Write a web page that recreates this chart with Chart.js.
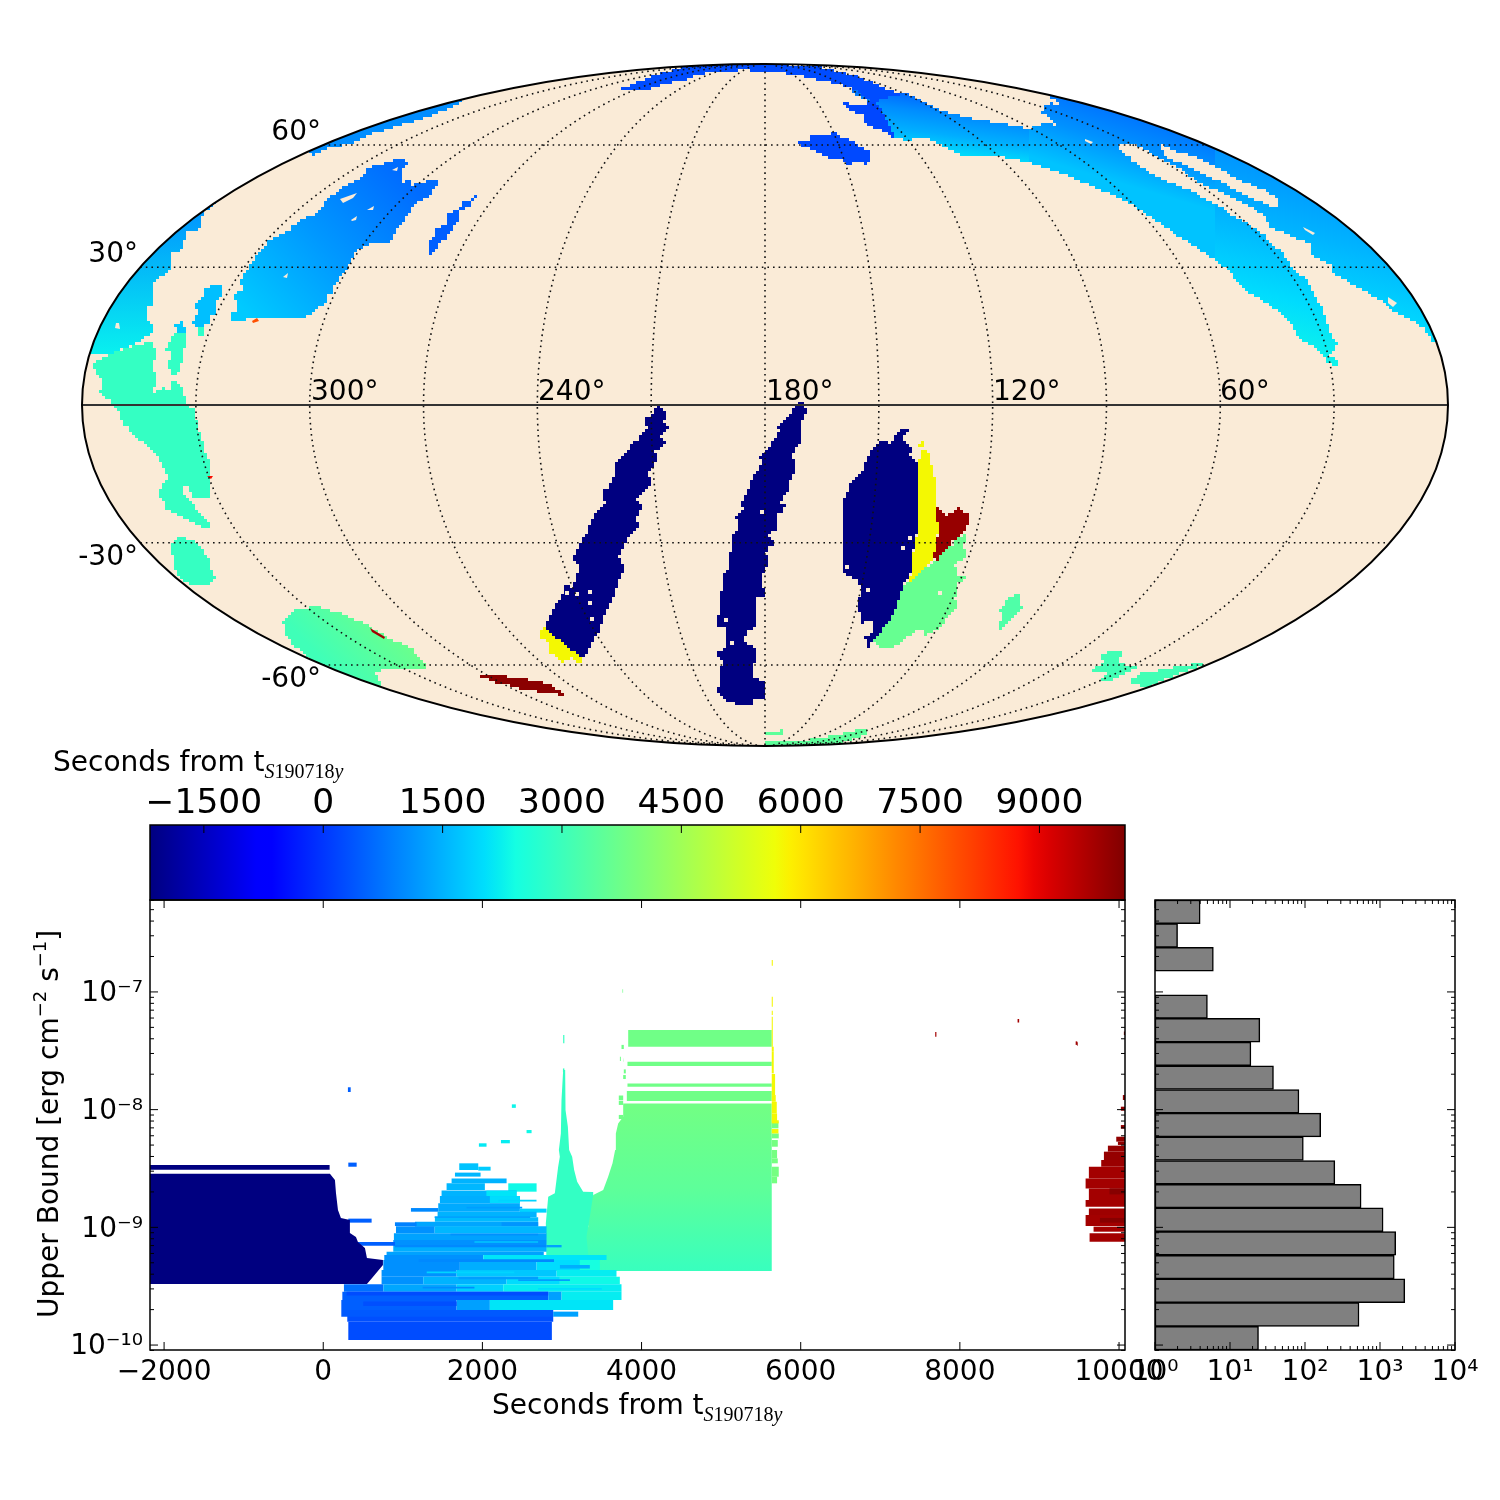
<!DOCTYPE html>
<html>
<head>
<meta charset="utf-8">
<title>S190718y upper bounds</title>
<script src="https://cdn.jsdelivr.net/npm/chart.js@4"></script>
<style>
    body { margin: 0; background: #fff; }
    #page { position: relative; width: 1500px; height: 1500px; overflow: hidden; }
    canvas { position: absolute; left: 0; top: 0; }
    .label { position: absolute; font: 28px "DejaVu Sans"; line-height: 34px; white-space: nowrap; color: #000; }
    .label sub { font: 20px "Liberation Serif"; vertical-align: -7px; line-height: 0; }
    .label sup { font-size: 18px; vertical-align: 12px; line-height: 0; }
</style>
</head>
<body>
<div id="page">
    <canvas id="map" width="1500" height="1500"></canvas>
    <canvas id="colorbar" width="1500" height="1500"></canvas>
    <canvas id="main" width="1500" height="1500"></canvas>
    <canvas id="hist" width="1500" height="1500"></canvas>
    <div class="label" style="left:53px;top:745px">Seconds from t<sub><i>S</i>190718<i>y</i></sub></div>
    <div class="label" style="left:492px;top:1388px">Seconds from t<sub><i>S</i>190718<i>y</i></sub></div>
    <div class="label" style="left:32px;top:1318px;transform-origin:left top;transform:rotate(-90deg)">Upper Bound [erg cm<sup>−2</sup> s<sup>−1</sup>]</div>
</div>
<script>
// ---- axis values ----
const timeMin = -2177
const timeMax = 10075
const fluxMinExp = -10.042
const fluxMaxExp = -6.219
const colorbarTicks = [-1500, 0, 1500, 3000, 4500, 6000, 7500, 9000]
const mainTimeTicks = [-2000, 0, 2000, 4000, 6000, 8000, 10000]
const fluxDecades = [-10, -9, -8, -7]
const histCountTicks = [1, 10, 100, 1000, 10000]

// ---- histogram, bins from the top down ----
const histBins = ["b1","b2","b3","b4","b5","b6","b7","b8","b9","b10","b11","b12","b13","b14","b15","b16","b17","b18","b19"]
const histCounts = [4, 2, 6, null, 5, 25, 19, 38, 83, 162, 95, 250, 560, 1100, 1620, 1550, 2140, 525, 24]

// ---- lower panel: [seconds, log10 flux] outlines ----
const navyBlock = [[-2177,-8.545],[84,-8.545],[147,-8.598],[160,-8.709],[185,-8.853],[222,-8.921],[335,-8.938],[335,-9.048],[411,-9.082],[436,-9.125],[524,-9.176],[549,-9.261],[750,-9.278],[750,-9.32],[624,-9.422],[549,-9.482],[-2177,-9.482]]
const tealPeak = [[3015,-7.664],[3040,-7.664],[3040,-7.777],[3049,-8.003],[3074,-8.145],[3090,-8.343],[3128,-8.4],[3153,-8.513],[3191,-8.612],[3266,-8.697],[3392,-8.7],[3392,-8.91],[3329,-8.995],[3350,-9.37],[2806,-9.37],[2797,-8.966],[2827,-8.74],[2910,-8.711],[2952,-8.485],[2973,-8.4],[2961,-8.343],[2986,-8.202],[2994,-7.918]]
const greenBody = [[3769,-7.947],[5636,-7.947],[5636,-9.371],[3350,-9.371],[3308,-9.08],[3350,-8.91],[3392,-8.725],[3518,-8.683],[3580,-8.57],[3635,-8.456],[3668,-8.343],[3677,-8.202],[3706,-8.117],[3769,-8.06]]

// ---- lower panel: [start, end, low, high, colour time] observation strips ----
const navyStrips = [[-2177,80,-8.51,-8.47,-2177]]
const greenStrips = [
    [3832,5636,-7.465,-7.324,3777],[3823,5636,-7.63,-7.593,3777],[3823,5636,-7.805,-7.777,3777],[3815,5636,-7.927,-7.842,3777],
    [3748,3777,-7.485,-7.45,3777],[3760,3768,-7.007,-6.978,3777],[3728,3740,-7.587,-7.55,3777],[3769,3777,-7.59,-7.56,3777],
    [3777,3802,-7.692,-7.658,3777],[3769,3802,-7.74,-7.706,3777],[3714,3769,-7.918,-7.88,3777],[3714,3769,-7.96,-7.924,3777],[3714,3769,-8.08,-8.045,3777],
    [5636,5720,-8.159,-8.102,3850],[5636,5724,-8.244,-8.202,3850],[5636,5712,-8.315,-8.258,3850],[5636,5703,-8.414,-8.343,3850],[5636,5712,-8.456,-8.414,3850],[5636,5724,-8.57,-8.485,3850],[5636,5703,-8.626,-8.57,3850],
    [3015,3030,-7.437,-7.366,2900],[3012,3030,-7.68,-7.65,2900]
]
const yellowStrips = [
    [5636,5649,-6.777,-6.729,5750],[5636,5649,-7.125,-7.04,5750],[5636,5649,-7.196,-7.159,5750],[5636,5649,-7.465,-7.21,5750],[5636,5661,-7.508,-7.465,5750],
    [5636,5661,-7.692,-7.508,5750],[5636,5678,-7.876,-7.697,5750],[5636,5686,-7.933,-7.876,5750],[5636,5699,-8.032,-7.933,5750],[5636,5703,-8.102,-8.032,5750],
    [5636,5724,-8.117,-8.09,5750],[5636,5720,-8.202,-8.165,5750]
]
const massStrips = [
    [1709,1948,-8.513,-8.456,1700],[1948,2103,-8.518,-8.485,1800],[1655,1977,-8.569,-8.535,1550],[1613,2304,-8.626,-8.584,1500],
    [1550,2031,-8.683,-8.626,1550],[2325,2681,-8.697,-8.626,2350],[1487,2429,-8.734,-8.688,1500],[2050,2429,-8.734,-8.688,2100],
    [1466,2471,-8.796,-8.734,1450],[2094,2471,-8.796,-8.734,2000],[1445,2471,-8.867,-8.796,1400],[2471,2806,-8.875,-8.841,1900],
    [1437,2681,-8.915,-8.867,1500],[1403,2701,-8.952,-8.915,1600],[1152,2701,-8.994,-8.952,1350],[2241,2701,-8.989,-8.957,1150],
    [914,1400,-9.051,-8.99,1100],[1400,2806,-9.051,-8.99,1550],[888,2806,-9.108,-9.051,1300],[880,2806,-9.15,-9.108,1100],
    [880,2806,-9.207,-9.15,1450],[796,2771,-9.235,-9.207,1300],[767,2011,-9.277,-9.235,1100],[2011,3560,-9.277,-9.235,2100],
    [755,1717,-9.362,-9.277,1080],[1717,2681,-9.362,-9.277,1450],[2681,3225,-9.362,-9.277,2000],[3225,3476,-9.362,-9.277,2450],
    [733,1676,-9.419,-9.362,1100],[1676,2932,-9.419,-9.362,1750],[2932,3685,-9.419,-9.362,2200],
    [733,1257,-9.484,-9.419,1100],[1257,2304,-9.484,-9.419,1500],[2304,2974,-9.484,-9.419,2000],[2974,3727,-9.484,-9.419,2350],
    [260,755,-9.547,-9.484,700],[755,1676,-9.547,-9.484,1350],[1676,2262,-9.547,-9.484,1850],[2262,3748,-9.547,-9.484,2200],
    [240,2827,-9.617,-9.547,500],[2827,2995,-9.617,-9.547,1280],[2995,3748,-9.617,-9.547,2200],
    [227,1676,-9.702,-9.617,500],[1676,2094,-9.702,-9.617,1280],[2094,3643,-9.702,-9.617,2100]
]
const darkStreaks = [
    [294,2827,-9.58,-9.547,270],[503,1676,-9.668,-9.631,300],[1200,2900,-9.295,-9.27,1000],[1700,2700,-9.44,-9.419,1250],
    [900,2806,-9.17,-9.15,1000],[1600,2700,-9.07,-9.055,1100],[2806,2995,-9.17,-9.15,1300],[2974,3350,-9.35,-9.32,1450],
    [1400,2600,-8.92,-8.905,1300],[1800,2500,-8.84,-8.825,1250],[2200,2680,-8.78,-8.765,1900],[1900,2700,-9.13,-9.118,1750],
    [1300,2400,-9.39,-9.375,1900],[2450,3100,-9.455,-9.44,1250],[1250,1900,-9.52,-9.505,1050],[2700,3500,-9.53,-9.515,2000]
]
const bottomStrips = [[315,2873,-9.957,-9.801,270],[302,2890,-9.801,-9.716,300],[227,2890,-9.759,-9.702,420],[2890,3204,-9.759,-9.716,1300]]
const strayStrips = [
    [1102,1445,-8.867,-8.836,1000],[901,1173,-8.989,-8.957,900],[315,608,-8.96,-8.926,500],[386,901,-9.156,-9.125,500],[315,420,-8.485,-8.45,500],
    [1956,2052,-8.315,-8.286,2150],[2233,2345,-8.286,-8.258,2200],[2555,2618,-8.2,-8.173,2350],[310,345,-7.85,-7.81,500],[2370,2420,-7.985,-7.955,2300],
    [7690,7705,-7.38,-7.34,9700],[8725,8745,-7.26,-7.23,9700],[9455,9475,-7.45,-7.42,9700]
]
const redStrips = [
    [10048,10075,-7.918,-7.876,9900],[10023,10075,-8.009,-7.975,9900],[10023,10075,-8.162,-8.131,9900],[9965,10075,-8.272,-8.23,9900],[9986,10075,-8.3,-8.272,9900],
    [9860,10075,-8.357,-8.306,9850],[9810,10075,-8.428,-8.357,9850],[9776,10075,-8.485,-8.428,9800],[9621,10075,-8.584,-8.485,9700],[9580,10075,-8.669,-8.584,9700],
    [9621,10075,-8.768,-8.669,9700],[9580,10075,-8.824,-8.768,9700],[9621,10075,-8.895,-8.839,9750],[9580,10075,-8.989,-8.895,9700],[9680,10075,-9.037,-8.994,9700],
    [9630,10075,-9.122,-9.051,9700],[9880,10075,-8.72,-8.669,10000],[9760,10075,-8.96,-8.92,10000],[10061,10075,-7.366,-7.337,9900],[9471,9480,-7.457,-7.428,9900]
]

// ---- map: outlines in the Mollweide plane, centre of the ellipse at 0,0 ----
const swathWest = [[85,325],[118,315],[145,310],[175,295],[202,287],[235,282],[258,277],[265,277],[265,243],[232,250],[202,248],[182,257],[163,267],[145,265],[130,267],[107,303],[88,313]]
const swathMiddle = [[265,277],[278,282],[292,280],[282,290],[275,295],[285,302],[297,299],[285,310],[320,345],[450,345],[450,146],[432,158],[398,180],[365,202],[332,217],[298,232],[265,243]]
const swathEast = [[450,345],[720,345],[720,60],[700,38],[572,38],[565,42],[552,57],[532,70],[528,82],[512,95],[478,118],[465,135],[450,146]]
const swathSlotLong = [[353,260],[368,260],[392,247],[418,235],[422,228],[465,208],[498,190],[505,178],[545,160],[547,150],[567,138],[568,132],[618,102],[627,93],[658,78],[662,68],[672,60],[700,20],[580,20],[572,45],[565,50],[572,62],[565,75],[558,95],[552,108],[542,125],[528,138],[518,152],[507,162],[495,175],[478,185],[452,200],[425,215],[392,228],[378,238],[362,250]]
const swathSlotThin = [[397,260],[405,255],[432,247],[472,225],[498,215],[515,203],[513,198],[505,200],[472,215],[432,235],[405,247],[398,252]]
const swathHoleA = [[538,178],[550,172],[548,170],[540,175]]
const swathHoleB = [[623,108],[632,102],[628,98],[623,102]]
const swathHoleC = [[320,266],[328,263],[326,261],[320,264]]
const polarArc = [[-145,317],[-128,323],[-107,331],[-88,337],[-72,340],[-32,342],[42,340],[88,330],[135,310],[107,303],[88,318],[68,322],[42,328],[18,332],[0,333],[-22,335],[-35,333],[-65,331],[-78,325],[-93,322],[-115,316],[-140,315]]
const northLobe = [[79,302],[98,300],[105,303],[115,297],[130,267],[122,272],[105,280],[98,285],[98,290],[80,297]]
const northIsland = [[33,265],[45,263],[45,271],[57,271],[70,272],[75,267],[85,265],[97,257],[107,251],[103,241],[92,242],[82,240],[77,245],[62,248],[52,253],[42,258],[35,262]]
const limbArcWest = [[-453,250],[-442,256],[-415,262],[-395,271],[-375,277],[-345,286],[-322,295],[-302,304],[-310,320],[-470,270]]
const limbPatchWest = [[-550,202],[-562,188],[-566,175],[-578,172],[-581,162],[-582,155],[-595,152],[-595,135],[-605,125],[-613,122],[-612,118],[-612,100],[-619,97],[-617,85],[-615,82],[-612,72],[-618,68],[-628,62],[-652,52],[-720,50],[-720,240],[-560,240]]
const limbHole = [[-649,82],[-646,82],[-645,76],[-650,77]]
const tealEquator = [[-672,42],[-668,45],[-655,52],[-613,65],[-610,55],[-608,47],[-613,38],[-608,25],[-612,13],[-602,18],[-595,13],[-593,25],[-585,18],[-582,12],[-578,0],[-570,-5],[-568,-22],[-564,-33],[-560,-48],[-555,-58],[-554,-92],[-570,-94],[-577,-82],[-583,-82],[-583,-90],[-575,-95],[-565,-110],[-555,-120],[-558,-124],[-572,-117],[-585,-110],[-599,-102],[-600,-95],[-607,-88],[-597,-68],[-602,-60],[-607,-52],[-618,-40],[-635,-25],[-643,-15],[-648,-2],[-653,2],[-665,15],[-662,25],[-672,38]]
const tealSliver = [[-595,70],[-577,73],[-580,58],[-583,45],[-585,32],[-592,30],[-598,43],[-593,52],[-600,57],[-595,65]]
const cyanCap = [[-591,82],[-583,83],[-579,73],[-588,71]]
const cyanPatch = [[-560,118],[-543,120],[-542,108],[-548,103],[-548,92],[-555,88],[-555,80],[-570,78],[-573,85],[-567,93],[-571,103],[-563,108]]
const cyanTip = [[-568,78],[-559,78],[-562,70],[-566,70]]
const bluePatch = [[-352,244],[-362,235],[-362,223],[-355,225],[-355,220],[-323,227],[-335,208],[-348,202],[-355,192],[-368,175],[-375,163],[-383,162],[-393,162],[-408,153],[-417,138],[-422,128],[-433,118],[-433,112],[-438,108],[-440,100],[-458,87],[-508,87],[-532,83],[-535,90],[-528,95],[-530,112],[-523,117],[-525,127],[-517,138],[-507,153],[-497,165],[-478,175],[-465,185],[-448,193],[-440,203],[-425,217],[-402,228],[-398,237],[-373,245]]
const bluePatchHoles = [
    [[-425,206],[-408,212],[-412,207],[-422,202]],
    [[-414,185],[-408,189],[-409,185],[-413,184]],
    [[-398,195],[-391,199],[-392,195]],
    [[-482,128],[-477,132],[-478,127]],
    [[-373,235],[-367,238],[-368,234]]
]
const blueSliver = [[-289,209],[-295,198],[-305,192],[-307,182],[-315,172],[-328,155],[-333,151],[-336,152],[-336,165],[-330,168],[-329,177],[-318,182],[-318,191],[-307,197],[-302,203]]
const orangeDot = [[-513,84],[-508,87],[-506,84],[-512,82]]
const redMark = [[-558,-71],[-552,-71],[-554,-74]]
const navyWest = [[-107,-1],[-97,-10],[-102,-18],[-96,-23],[-105,-32],[-100,-39],[-110,-49],[-107,-56],[-115,-65],[-118,-72],[-113,-77],[-120,-88],[-128,-97],[-123,-102],[-129,-117],[-124,-121],[-135,-133],[-140,-142],[-147,-153],[-140,-163],[-148,-183],[-155,-200],[-163,-217],[-165,-227],[-172,-238],[-177,-250],[-183,-253],[-205,-238],[-222,-222],[-202,-187],[-202,-177],[-195,-182],[-188,-172],[-187,-160],[-193,-155],[-187,-140],[-178,-125],[-172,-112],[-160,-95],[-163,-88],[-152,-72],[-148,-62],[-152,-60],[-138,-45],[-127,-32],[-118,-20],[-120,-13]]
const yellowWest = [[-225,-224],[-222,-222],[-205,-238],[-183,-253],[-182,-257],[-187,-259],[-193,-253],[-200,-257],[-208,-252],[-217,-247],[-217,-238],[-225,-230]]
const navyCentre = [[38,6],[42,-10],[35,-20],[37,-32],[35,-40],[27,-52],[31,-67],[23,-80],[25,-85],[15,-98],[20,-102],[13,-112],[13,-122],[3,-133],[10,-137],[0,-150],[5,-157],[-2,-170],[-3,-180],[0,-192],[-8,-190],[-8,-212],[-11,-225],[-18,-223],[-20,-238],[-10,-245],[-11,-273],[0,-277],[0,-293],[-13,-295],[-13,-300],[-25,-300],[-38,-295],[-48,-287],[-45,-270],[-43,-255],[-52,-248],[-42,-247],[-40,-237],[-38,-223],[-47,-222],[-46,-197],[-44,-187],[-42,-177],[-45,-173],[-35,-160],[-37,-150],[-32,-138],[-33,-130],[-27,-120],[-29,-112],[-22,-103],[-24,-95],[-18,-87],[-13,-72],[-3,-58],[-5,-50],[5,-38],[15,-23],[13,-20],[28,-3]]
const navyEast = [[138,-23],[143,-28],[137,-33],[148,-47],[143,-52],[153,-58],[153,-115],[152,-128],[148,-148],[147,-165],[140,-178],[137,-185],[133,-198],[127,-212],[118,-225],[108,-237],[104,-243],[100,-232],[108,-228],[107,-217],[97,-218],[92,-195],[97,-185],[93,-175],[78,-168],[77,-145],[77,-118],[78,-95],[85,-77],[97,-65],[102,-50],[113,-35],[123,-38],[132,-28]]
const yellowEast = [[155,-36],[160,-40],[159,-46],[164,-48],[167,-65],[172,-83],[172,-95],[172,-103],[172,-112],[174,-125],[171,-135],[170,-153],[158,-165],[140,-181],[147,-165],[148,-148],[152,-128],[153,-115],[153,-58],[156,-48],[158,-43],[154,-40]]
const darkRedEast = [[172,-102],[180,-112],[192,-102],[197,-107],[203,-112],[205,-119],[197,-128],[185,-142],[173,-155],[168,-152],[171,-135],[174,-125],[172,-112],[170,-110]]
const greenEast = [[202,-129],[193,-135],[185,-142],[173,-155],[158,-165],[140,-181],[137,-185],[133,-198],[127,-212],[118,-225],[108,-237],[113,-243],[125,-243],[142,-232],[155,-222],[160,-231],[175,-222],[192,-200],[190,-192],[193,-178],[202,-172],[198,-170],[193,-175],[190,-160],[202,-150],[198,-140]]
const greenIsland = [[258,-183],[255,-192],[257,-205],[247,-215],[237,-225],[231,-222],[237,-212],[235,-205],[243,-192],[252,-188]]
const southEastA = [[337,-248],[360,-246],[353,-258],[372,-263],[355,-272],[348,-275],[332,-277],[342,-267],[325,-265],[338,-257]]
const southEastB = [[362,-278],[375,-268],[412,-262],[438,-257],[443,-258],[398,-275],[385,-282]]
const tealSouth = [[-595,-138],[-585,-132],[-570,-137],[-565,-143],[-557,-152],[-554,-165],[-550,-173],[-555,-180],[-570,-180],[-583,-175],[-590,-162]]
const greenSouth = [[-482,-215],[-475,-208],[-465,-203],[-448,-202],[-428,-207],[-398,-220],[-378,-233],[-352,-245],[-338,-263],[-378,-265],[-392,-267],[-383,-282],[-383,-295],[-452,-270],[-452,-255],[-468,-242],[-478,-232]]
const redSliver = [[-395,-223],[-380,-232],[-381,-234],[-393,-227]]
const darkRedSouth = [[-287,-269],[-265,-271],[-235,-275],[-217,-280],[-202,-290],[-220,-288],[-245,-283],[-270,-277]]
const greenPoleA = [[0,-328],[18,-325],[18,-329],[0,-331]]
const greenPoleB = [[0,-336],[35,-336],[65,-331],[100,-323],[102,-330],[60,-345],[0,-345]]
const smallHoles = [[-198,-188],[-188,-189],[-175,-187],[-175,-198],[-173,-214],[-3,-107],[-39,-215],[-33,-238],[145,-133],[138,-143],[103,-185],[82,-162],[175,-188]]

const meridianOffsets = [-150, -120, -90, -60, -30, 0, 30, 60, 90, 120, 150]
const parallels = [-60, -30, 30, 60]
const lonLabels = [["300°", -454, 12], ["240°", -227, 12], ["180°", 1, 12], ["120°", 228, 12], ["60°", 455, 12]]
const latLabels = [["60°", -444, 272], ["30°", -627, 150], ["-30°", -627, -153], ["-60°", -444, -275]]

// ---- jet colours, so everything is coloured by its seconds value ----
const jetR = [[0, 0], [.35, 0], [.66, 1], [.89, 1], [1, .5]]
const jetG = [[0, 0], [.125, 0], [.375, 1], [.64, 1], [.91, 0], [1, 0]]
const jetB = [[0, .5], [.11, 1], [.34, 1], [.65, 0], [1, 0]]
const beige = "#faebd7"

const channel = (stops, v) => {
    for (let i = 1; i < stops.length; i++) {
        if (v <= stops[i][0]) {
            const [a, b] = [stops[i - 1], stops[i]]
            return a[1] + (b[1] - a[1]) * (v - a[0]) / (b[0] - a[0])
        }
    }
    return stops[stops.length - 1][1]
}

const jet = (time) => {
    const v = Math.min(1, Math.max(0, (time - timeMin) / (timeMax - timeMin)))
    return `rgb(${[jetR, jetG, jetB].map(c => Math.round(channel(c, v) * 255)).join(",")})`
}

const linearGradient = (chart, p0, p1, times) => {
    const g = chart.ctx.createLinearGradient(p0[0], p0[1], p1[0], p1[1])
    times.forEach((t, i) => g.addColorStop(i / (times.length - 1), jet(t)))
    return g
}

const polygon = (points, fillColor, order) => ({
    data: points,
    showLine: true,
    fill: "shape",
    borderWidth: 0,
    pointRadius: 0,
    tension: 0,
    backgroundColor: fillColor,
    order
})

const sup = { "-": "⁻", "0": "⁰", "1": "¹", "2": "²", "3": "³", "4": "⁴", "5": "⁵", "6": "⁶", "7": "⁷", "8": "⁸", "9": "⁹" }
const powerLabel = (value) => "10" + String(Math.round(Math.log10(value))).split("").map(c => sup[c]).join("")

const logMinors = (from, to) => {
    const out = []
    for (let e = from; e < to; e++) {
        for (let m = 2; m < 10; m++) out.push(m * Math.pow(10, e))
    }
    return out
}

// matplotlib style frame with the ticks pointing inwards
const insideTicks = (cfg) => ({
    id: "insideTicks",
    afterDraw(chart) {
        const { ctx, chartArea: a } = chart
        const xs = chart.scales.x
        const ys = chart.scales[cfg.yScale || "y"]
        const line = (x0, y0, x1, y1) => {
            ctx.beginPath()
            ctx.moveTo(x0, y0)
            ctx.lineTo(x1, y1)
            ctx.stroke()
        }
        const drawX = (list, len) => list.forEach(v => {
            const p = xs.getPixelForValue(v)
            if (p < a.left - .5 || p > a.right + .5) return
            if (cfg.top) line(p, a.top, p, a.top + len)
            if (cfg.bottom) line(p, a.bottom, p, a.bottom - len)
        })
        const drawY = (list, len) => list.forEach(v => {
            const p = ys.getPixelForValue(v)
            if (p < a.top - .5 || p > a.bottom + .5) return
            line(a.left, p, a.left + len, p)
            line(a.right, p, a.right - len, p)
        })
        ctx.save()
        ctx.strokeStyle = "#000"
        ctx.lineWidth = 1
        drawX(cfg.xMajor || [], 8)
        drawX(cfg.xMinor || [], 4)
        drawY(cfg.yMajor || [], 8)
        drawY(cfg.yMinor || [], 4)
        ctx.lineWidth = 1.5
        ctx.strokeRect(a.left, a.top, a.right - a.left, a.bottom - a.top)
        ctx.restore()
    }
})

// tick labels are clipped to the scale box, so the boxes get a fixed size and the padding takes the rest
const axisBox = 60
const fixedHeight = (s) => { s.height = axisBox }
const fixedWidth = (s) => { s.width = axisBox * 2 }

const baseOptions = (left, top, right, bottom) => ({
    responsive: false,
    animation: false,
    layout: { padding: { left, top, right: 1500 - right, bottom: 1500 - bottom } },
    plugins: { legend: { display: false }, tooltip: { enabled: false } }
})

Chart.defaults.font.family = "DejaVu Sans"
Chart.defaults.color = "#000"

// ---- sky map ----
const renderMap = () => {
    const thetaFor = (lat) => {
        const target = Math.PI * Math.sin(lat * Math.PI / 180)
        let t = lat * Math.PI / 180
        for (let i = 0; i < 30 && Math.abs(lat) < 90; i++) {
            t -= (2 * t + Math.sin(2 * t) - target) / (2 + 2 * Math.cos(2 * t))
        }
        return t
    }
    const project = (lon, lat) => {
        const t = thetaFor(lat)
        return { x: 683 * (lon / 180) * Math.cos(t), y: 341 * Math.sin(t) }
    }
    // the sky is pixelised, so outlines are walked in small axis aligned steps
    const cell = 3
    const snap = (v) => Math.round(v / cell) * cell
    const staircase = (pts) => {
        const out = []
        pts.forEach((a, i) => {
            const b = pts[(i + 1) % pts.length]
            const n = Math.max(1, Math.ceil(Math.max(Math.abs(b[0] - a[0]), Math.abs(b[1] - a[1])) / cell))
            let lastY = snap(a[1])
            for (let k = 1; k <= n; k++) {
                const px = snap(a[0] + (b[0] - a[0]) * k / n)
                const py = snap(a[1] + (b[1] - a[1]) * k / n)
                out.push({ x: px, y: lastY })
                out.push({ x: px, y: py })
                lastY = py
            }
        })
        return out
    }
    const toPlane = (pts) => pts.map(p => ({ x: p[0], y: p[1] }))
    const planeFill = (p0, p1, times) => (c) => {
        if (!c.chart.chartArea) return jet(times[0])
        const { x, y } = c.chart.scales
        return linearGradient(c.chart,
            [x.getPixelForValue(p0[0]), y.getPixelForValue(p0[1])],
            [x.getPixelForValue(p1[0]), y.getPixelForValue(p1[1])], times)
    }
    const square = (c) => [[c[0] - 2, c[1] - 2], [c[0] + 2, c[1] - 2], [c[0] + 2, c[1] + 2], [c[0] - 2, c[1] + 2]]

    const layers = [
        [swathWest, planeFill([150, 315], [142, 255], [500, 1050, 1450, 2050])],
        [swathMiddle, planeFill([400, 290], [378, 215], [650, 1100, 1700])],
        [swathEast, planeFill([470, 260], [420, 59], [1084, 1500, 2000, 2384])],
        [swathSlotLong, beige], [swathSlotThin, beige],
        [polarArc, jet(270)], [northLobe, jet(212)], [northIsland, jet(230)],
        [limbArcWest, jet(1050)],
        [limbPatchWest, planeFill([-640, 202], [-640, 52], [1084, 2234])],
        [tealEquator, jet(2880)], [tealSliver, jet(2850)], [cyanCap, jet(1800)],
        [cyanPatch, jet(1650)], [cyanTip, jet(2800)],
        [bluePatch, planeFill([-362, 228], [-512, 85], [650, 1180, 1780])],
        [blueSliver, jet(500)],
        [navyWest, jet(timeMin)], [yellowWest, jet(5750)],
        [navyCentre, jet(timeMin)],
        [navyEast, jet(timeMin)], [yellowEast, jet(5750)], [darkRedEast, jet(9830)], [greenEast, jet(3630)],
        [greenIsland, jet(3290)], [southEastA, jet(3090)], [southEastB, jet(3090)],
        [tealSouth, jet(2900)],
        [greenSouth, planeFill([-430, -270], [-370, -215], [3050, 3750])],
        [darkRedSouth, jet(9950)], [greenPoleA, jet(3500)], [greenPoleB, jet(3500)]
    ]
    // small flecks stay as read, a step pattern would swallow them
    const flecks = [
        [swathHoleA, beige], [swathHoleB, beige], [swathHoleC, beige], [limbHole, beige],
        ...bluePatchHoles.map(h => [h, beige]),
        [orangeDot, jet(7945)], [redMark, jet(8790)], [redSliver, jet(9700)],
        ...smallHoles.map(c => [square(c), beige])
    ]
    const datasets = [
        ...layers.map((l, i) => polygon(staircase(l[0]), l[1], 1000 - i)),
        ...flecks.map((l, i) => polygon(toPlane(l[0]), l[1], 500 - i))
    ]

    const gridStyle = { showLine: true, fill: false, pointRadius: 0, borderColor: "#111", borderWidth: 1.6, borderDash: [1.6, 4], order: 5 }
    const lats = []
    for (let lat = -89; lat <= 89; lat += 2) lats.push(lat)
    meridianOffsets.forEach(lon => {
        datasets.push({ ...gridStyle, data: lats.map(lat => project(lon, lat)) })
    })
    parallels.forEach(lat => {
        const edge = project(180, lat)
        datasets.push({ ...gridStyle, data: [{ x: -edge.x, y: edge.y }, { x: edge.x, y: edge.y }] })
    })
    datasets.push({ showLine: true, fill: false, pointRadius: 0, borderColor: "#333", borderWidth: 2, order: 1, data: [{ x: -683, y: 0 }, { x: 683, y: 0 }] })

    const limbPath = (chart) => {
        const { x, y } = chart.scales
        const ctx = chart.ctx
        const cx = x.getPixelForValue(0)
        const cy = y.getPixelForValue(0)
        ctx.beginPath()
        ctx.ellipse(cx, cy, x.getPixelForValue(683) - cx, cy - y.getPixelForValue(341), 0, 0, Math.PI * 2)
    }
    const mapFrame = {
        id: "mapFrame",
        beforeDatasetsDraw(chart) {
            const ctx = chart.ctx
            ctx.save()
            limbPath(chart)
            ctx.fillStyle = beige
            ctx.fill()
            ctx.clip()
        },
        afterDatasetsDraw(chart) {
            const ctx = chart.ctx
            const { x, y } = chart.scales
            ctx.restore()
            ctx.save()
            limbPath(chart)
            ctx.strokeStyle = "#000"
            ctx.lineWidth = 2
            ctx.stroke()
            ctx.fillStyle = "#000"
            ctx.font = '28px "DejaVu Sans"'
            ctx.textBaseline = "middle"
            ctx.textAlign = "left"
            lonLabels.forEach(l => ctx.fillText(l[0], x.getPixelForValue(l[1]), y.getPixelForValue(l[2])))
            ctx.textAlign = "right"
            latLabels.forEach(l => ctx.fillText(l[0], x.getPixelForValue(l[1]), y.getPixelForValue(l[2])))
            ctx.restore()
        }
    }

    new Chart(document.querySelector("#map"), {
        type: "scatter",
        data: { datasets },
        options: {
            ...baseOptions(82, 64, 1448, 746),
            scales: {
                x: { type: "linear", min: -683, max: 683, display: false },
                y: { type: "linear", min: -341, max: 341, display: false }
            }
        },
        plugins: [mapFrame]
    })
}

// ---- colour bar ----
const renderColorbar = () => {
    const fill = (c) => {
        if (!c.chart.chartArea) return jet(0)
        const x = c.chart.scales.x
        const times = []
        for (let i = 0; i <= 64; i++) times.push(timeMin + (timeMax - timeMin) * i / 64)
        return linearGradient(c.chart, [x.getPixelForValue(timeMin), 0], [x.getPixelForValue(timeMax), 0], times)
    }
    new Chart(document.querySelector("#colorbar"), {
        type: "bar",
        data: {
            labels: ["time"],
            datasets: [{ data: [[timeMin, timeMax]], backgroundColor: fill, barPercentage: 1, categoryPercentage: 1 }]
        },
        options: {
            ...baseOptions(150, 825 - axisBox, 1125, 900),
            indexAxis: "y",
            scales: {
                x: {
                    type: "linear",
                    position: "top",
                    min: timeMin,
                    max: timeMax,
                    grid: { display: false, drawTicks: false },
                    border: { display: false },
                    afterBuildTicks: (s) => { s.ticks = colorbarTicks.map(value => ({ value })) },
                    afterFit: fixedHeight,
                    ticks: { font: { size: 34.5 }, padding: 0, maxRotation: 0, autoSkip: false, callback: (v) => String(v).replace("-", "−") }
                },
                y: { display: false }
            }
        },
        plugins: [insideTicks({ top: true, xMajor: colorbarTicks })]
    })
}

// ---- seconds against upper bound ----
const renderMain = () => {
    const toPoints = (pts) => pts.map(p => ({ x: p[0], y: Math.pow(10, p[1]) }))
    const stripPoints = (s) => toPoints([[s[0], s[2]], [s[1], s[2]], [s[1], s[3]], [s[0], s[3]]])
    const greenFill = (c) => {
        if (!c.chart.chartArea) return jet(3777)
        const y = c.chart.scales.y
        return linearGradient(c.chart, [0, y.getPixelForValue(Math.pow(10, -8))], [0, y.getPixelForValue(Math.pow(10, -9.37))], [3800, 3500, 2950])
    }
    const strips = [...greenStrips, ...yellowStrips, ...massStrips, ...darkStreaks, ...bottomStrips, ...strayStrips, ...redStrips, ...navyStrips]
    const datasets = [
        polygon(toPoints(tealPeak), jet(2870), 3000),
        polygon(toPoints(greenBody), greenFill, 2999),
        polygon(toPoints(navyBlock), jet(timeMin), 1)
    ]
    strips.forEach((s, i) => datasets.push(polygon(stripPoints(s), jet(s[4]), 2000 - i)))

    new Chart(document.querySelector("#main"), {
        type: "scatter",
        data: { datasets },
        options: {
            ...baseOptions(150 - axisBox * 2, 900, 1125, 1350 + axisBox),
            scales: {
                x: {
                    type: "linear",
                    min: timeMin,
                    max: timeMax,
                    grid: { display: false, drawTicks: false },
                    border: { display: false },
                    afterBuildTicks: (s) => { s.ticks = mainTimeTicks.map(value => ({ value })) },
                    afterFit: fixedHeight,
                    ticks: { font: { size: 28 }, padding: 6, maxRotation: 0, autoSkip: false, callback: (v) => String(v).replace("-", "−") }
                },
                y: {
                    type: "logarithmic",
                    min: Math.pow(10, fluxMinExp),
                    max: Math.pow(10, fluxMaxExp),
                    grid: { display: false, drawTicks: false },
                    border: { display: false },
                    afterBuildTicks: (s) => { s.ticks = fluxDecades.map(e => ({ value: Math.pow(10, e), major: true })) },
                    afterFit: fixedWidth,
                    ticks: { font: { size: 28 }, padding: 7, labelOffset: 2, autoSkip: false, callback: powerLabel }
                }
            }
        },
        plugins: [insideTicks({
            top: true,
            bottom: true,
            xMajor: mainTimeTicks,
            yMajor: fluxDecades.map(e => Math.pow(10, e)),
            yMinor: logMinors(-11, -6)
        })]
    })
}

// ---- histogram of upper bounds ----
const renderHist = () => {
    new Chart(document.querySelector("#hist"), {
        type: "bar",
        data: {
            labels: histBins,
            datasets: [{
                data: histCounts,
                backgroundColor: "#808080",
                borderColor: "#000",
                borderWidth: 1.5,
                borderSkipped: false,
                barPercentage: 1,
                categoryPercentage: 1
            }]
        },
        options: {
            ...baseOptions(1155, 900, 1455, 1350 + axisBox),
            indexAxis: "y",
            scales: {
                x: {
                    type: "logarithmic",
                    min: 1,
                    max: 10000,
                    grid: { display: false, drawTicks: false },
                    border: { display: false },
                    afterBuildTicks: (s) => { s.ticks = histCountTicks.map(value => ({ value, major: true })) },
                    afterFit: fixedHeight,
                    ticks: { font: { size: 28 }, padding: 6, maxRotation: 0, autoSkip: false, callback: powerLabel }
                },
                y: { display: false },
                yFlux: {
                    axis: "y",
                    type: "logarithmic",
                    display: false,
                    min: Math.pow(10, fluxMinExp),
                    max: Math.pow(10, fluxMaxExp)
                }
            }
        },
        plugins: [insideTicks({
            top: true,
            bottom: true,
            yScale: "yFlux",
            xMajor: histCountTicks,
            xMinor: logMinors(0, 4),
            yMajor: fluxDecades.map(e => Math.pow(10, e)),
            yMinor: logMinors(-11, -6)
        })]
    })
}

renderMap()
renderColorbar()
renderMain()
renderHist()
</script>
</body>
</html>
